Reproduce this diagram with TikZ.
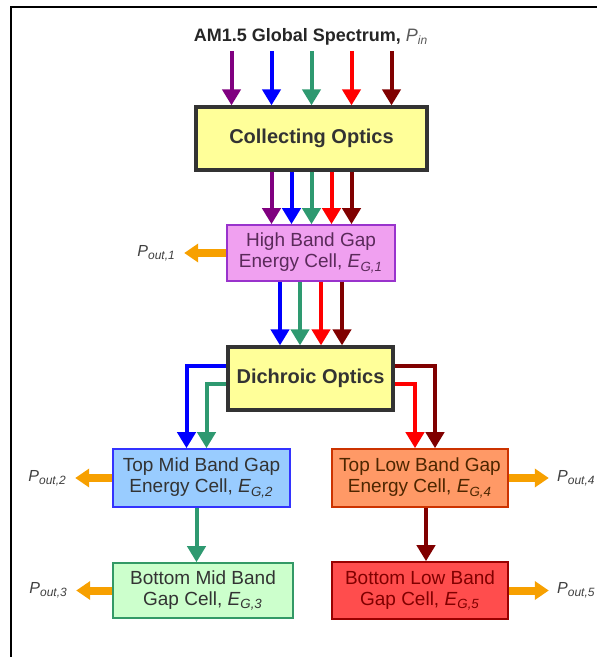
\documentclass[tikz,border=0pt]{standalone}
\usepackage{fontspec}
\setmainfont{Liberation Sans}
\usetikzlibrary{arrows.meta,calc,positioning,shadows}

\definecolor{optyellow}{HTML}{FFFF99}
\definecolor{highfill}{HTML}{F0A0F0}
\definecolor{highdraw}{HTML}{9933CC}
\definecolor{hightext}{HTML}{5A2A5A}
\definecolor{midfill}{HTML}{99CCFF}
\definecolor{middraw}{HTML}{3333FF}
\definecolor{lowfill}{HTML}{FF9966}
\definecolor{lowdraw}{HTML}{CC3300}
\definecolor{lowtext}{HTML}{4D2600}
\definecolor{botmidfill}{HTML}{CCFFCC}
\definecolor{botmiddraw}{HTML}{339966}
\definecolor{botlowfill}{HTML}{FF4D4D}
\definecolor{botlowdraw}{HTML}{990000}
\definecolor{botlowtext}{HTML}{800000}
\definecolor{rayviolet}{HTML}{800080}
\definecolor{rayblue}{HTML}{0000FF}
\definecolor{raygreen}{HTML}{2E9970}
\definecolor{rayred}{HTML}{FF0000}
\definecolor{raydark}{HTML}{800000}
\definecolor{poutorange}{HTML}{F7A000}

\newcommand{\subsym}[2]{\textit{#1}\textsubscript{\textit{#2}}}

\tikzset{
  optic/.style={draw=black!80, line width=1.6pt, fill=optyellow, text=black!80,
    font=\bfseries\fontsize{10}{12}\selectfont, inner sep=0pt,
    drop shadow={opacity=0.25,shadow xshift=1pt,shadow yshift=-1pt}},
  cell/.style={draw, line width=0.8pt, inner sep=0pt, align=center, text=black!80,
    font=\fontsize{9.5}{10.5}\selectfont},
  ray/.style={line width=2pt, -{Triangle[width=9pt,length=8pt]}},
  pout/.style={line width=4pt, poutorange, shorten >=4pt, -{Triangle[width=9pt,length=7pt]}},
  plabel/.style={font=\fontsize{8}{10}\selectfont, text=black!75, inner sep=0pt}
}

\begin{document}
\begin{tikzpicture}[x=0.5pt,y=-0.5pt]
        \useasboundingbox (0,0) rectangle (597,657);
        %% frame
        \draw[line width=1pt] (11,657) -- (11,7) -- (597,7);
        %% title
        \node[font=\bfseries\fontsize{9}{11}\selectfont, text=black!85] (title) at (311,37)
            {AM1.5 Global Spectrum, \mdseries\color{black!65}\subsym{P}{in}};
        %% optics and cells
        \node[optic, minimum width=115.5pt, minimum height=31.5pt] (coll) at (311.5,138.5) {Collecting Optics};
        \node[cell, fill=highfill, draw=highdraw, text=hightext, minimum width=84pt, minimum height=28pt]
            (high) at (311,253) {High Band Gap\\Energy Cell, \subsym{E}{G,1}};
        \node[optic, minimum width=82.5pt, minimum height=31.5pt] (dich) at (310.5,378.5) {Dichroic Optics};
        \node[cell, fill=midfill, draw=middraw, minimum width=88.5pt, minimum height=29pt]
            (topmid) at (201.5,478) {Top Mid Band Gap\\Energy Cell, \subsym{E}{G,2}};
        \node[cell, fill=lowfill, draw=lowdraw, text=lowtext, minimum width=88pt, minimum height=29pt]
            (toplow) at (420,478) {Top Low Band Gap\\Energy Cell, \subsym{E}{G,4}};
        \node[cell, fill=botmidfill, draw=botmiddraw, minimum width=90pt, minimum height=27.5pt]
            (botmid) at (203,590.5) {Bottom Mid Band\\Gap Cell, \subsym{E}{G,3}};
        \node[cell, fill=botlowfill, draw=botlowdraw, text=botlowtext, minimum width=88pt, minimum height=28.5pt]
            (botlow) at (420,590.5) {Bottom Low Band\\Gap Cell, \subsym{E}{G,5}};
        %% incoming spectrum
        \foreach \i/\dx/\col in {1/-80/rayviolet,2/-40/rayblue,3/0/raygreen,4/40/rayred,5/80/raydark}{
            \coordinate (in\i) at ($(coll.north)+(\dx,-54)$);
            \draw[ray,\col] (in\i) -- (in\i |- coll.north);
        }
        %% collecting optics -> high band gap cell
        \foreach \i/\dx/\col in {1/-40/rayviolet,2/-20/rayblue,3/0/raygreen,4/20/rayred,5/40/raydark}{
            \coordinate (co\i) at ($(coll.south)+(\dx,0)$);
            \draw[ray,\col] (co\i) -- (co\i |- high.north);
        }
        %% high band gap cell -> dichroic optics
        \foreach \i/\dx/\col in {1/-31/rayblue,2/-11/raygreen,3/10/rayred,4/31/raydark}{
            \coordinate (hi\i) at ($(high.south)+(\dx,0)$);
            \draw[ray,\col] (hi\i) -- (hi\i |- dich.north);
        }
        %% dichroic split
        \draw[ray,rayblue] ($(dich.west)+(0,-13)$) -| ($(topmid.north)+(-15,0)$);
        \draw[ray,raygreen] ($(dich.west)+(0,5)$) -| ($(topmid.north)+(5,0)$);
        \draw[ray,rayred] ($(dich.east)+(0,5)$) -| ($(toplow.north)+(-5,0)$);
        \draw[ray,raydark] ($(dich.east)+(0,-13)$) -| ($(toplow.north)+(15,0)$);
        %% top cells -> bottom cells
        \coordinate (tm) at ($(topmid.south)+(-5,0)$);
        \draw[ray,raygreen] (tm) -- (tm |- botmid.north);
        \coordinate (tl) at ($(toplow.south)+(6,0)$);
        \draw[ray,raydark] (tl) -- (tl |- botlow.north);
        %% output power
        \node[plabel, left=25pt of high] (pout1) {\subsym{P}{out,1}};
        \node[plabel, left=22.5pt of topmid] (pout2) {\subsym{P}{out,2}};
        \node[plabel, left=22pt of botmid] (pout3) {\subsym{P}{out,3}};
        \node[plabel, right=24pt of toplow] (pout4) {\subsym{P}{out,4}};
        \node[plabel, right=24pt of botlow] (pout5) {\subsym{P}{out,5}};
        \draw[pout] (high) -- (pout1);
        \draw[pout] (topmid) -- (pout2);
        \draw[pout] (botmid) -- (pout3);
        \draw[pout] (toplow) -- (pout4);
        \draw[pout] (botlow) -- (pout5);
    \end{tikzpicture}
\end{document}
